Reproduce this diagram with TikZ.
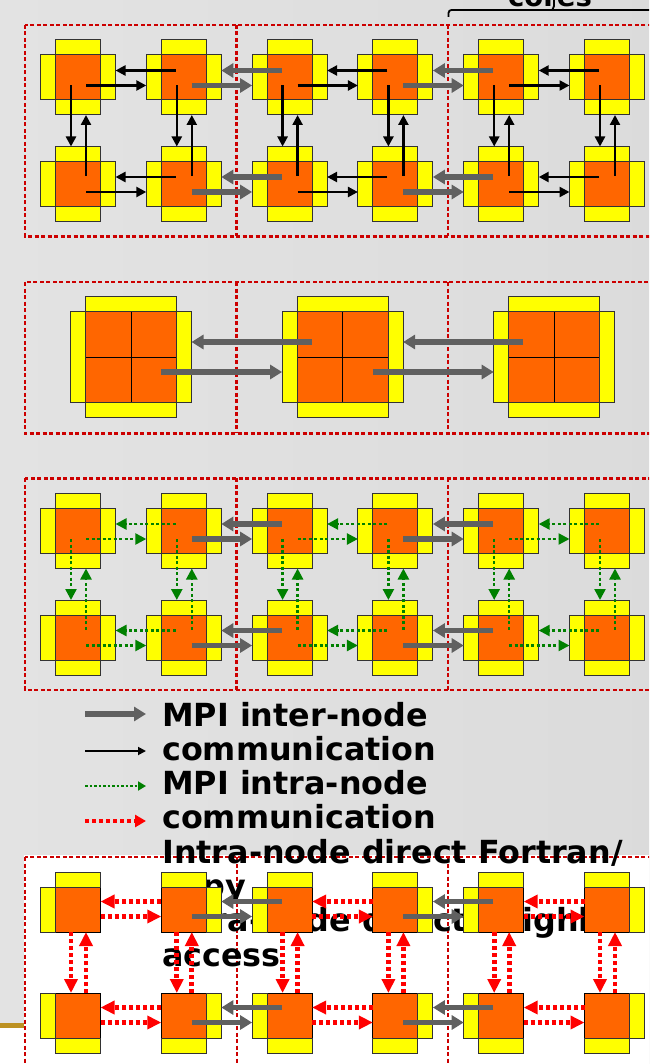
\documentclass[tikz,border=0pt]{standalone}
\usepackage{fontspec}
\setmainfont{DejaVu Sans}
\usetikzlibrary{arrows.meta, positioning, calc}

\definecolor{corange}{HTML}{FF6600}
\definecolor{cyellow}{HTML}{FFFF00}
\definecolor{intergray}{HTML}{606060}
\definecolor{boxred}{HTML}{CC0000}
\definecolor{shmgreen}{HTML}{008000}
\definecolor{dirred}{HTML}{FF0000}
\definecolor{footgold}{HTML}{BC9122}

% yellow bars around a core
\newcommand{\barN}[1]{\filldraw[ybar] (#1.north west) rectangle ($(#1.north east)+(0,-15)$);}
\newcommand{\barS}[1]{\filldraw[ybar] (#1.south west) rectangle ($(#1.south east)+(0,15)$);}
\newcommand{\barW}[1]{\filldraw[ybar] (#1.north west) rectangle ($(#1.south west)+(-15,0)$);}
\newcommand{\barE}[1]{\filldraw[ybar] (#1.north east) rectangle ($(#1.south east)+(15,0)$);}

\begin{document}
\begin{tikzpicture}[
    x=1pt, y=-1pt,
    core/.style={rectangle, draw=black, fill=corange, line width=1pt, minimum size=45pt, inner sep=0pt, outer sep=0pt},
    bigcore/.style={core, minimum size=91pt},
    ybar/.style={draw=black!80, fill=cyellow, line width=1pt},
    nodebox/.style={draw=boxred, line width=2.5pt, dash pattern=on 4pt off 2.5pt},
    inter/.style={draw=intergray, line width=5.5pt, -{Triangle[length=12pt, width=14pt]}},
    wire/.style={draw=black, line width=2.4pt, -{Triangle[length=10pt, width=10pt]}},
    shm/.style={draw=shmgreen, line width=2.4pt, dash pattern=on 3pt off 2.5pt, -{Triangle[length=11pt, width=11pt]}},
    direct/.style={draw=dirred, line width=4.8pt, dash pattern=on 4pt off 3pt, -{Triangle[length=14pt, width=13pt]}},
    legtext/.style={anchor=base west, inner sep=0pt, font=\fontsize{31.8}{34}\selectfont\bfseries}
]

\path[use as bounding box] (0,0) rectangle (649,1064);
\clip (0,0) rectangle (649,1064);

% Slide background
\shade[left color=black!11, right color=black!14] (0,0) rectangle (649,1064);
\fill[white] (24,855) rectangle (649,1064);
\fill[white] (0,1027) rectangle (24,1064);
\fill[footgold] (0,1023) rectangle (24,1027.5);

% Node boxes
\foreach \py/\ph/\lw in {25/211.5/2.5, 282/151.3/2.5, 478.3/211.7/2.5, 857/211.5/2} {
  \draw[nodebox, line width=\lw pt] (25, \py) rectangle ++(634.8, \ph);
  \foreach \k in {1,2}
    \draw[nodebox, line width=\lw pt] ({25+211.6*\k}, \py) -- ++(0, \ph);
}

% Legend text
\foreach \txt [count=\i] in {MPI inter-node, communication, MPI intra-node, communication,
    Intra-node direct Fortran/, copy, Intra-node direct neighbor, access}
  \node[legtext] (leg\i) at (162, {726+34.3*(\i-1)}) {\txt};

% Legend arrows
\coordinate (k1s) at (85,714);  \coordinate (k1e) at (146,714);
\coordinate (k2s) at (85,751);  \coordinate (k2e) at (146,751);
\coordinate (k3s) at (85,786);  \coordinate (k3e) at (146,786);
\coordinate (k4s) at (85,821);  \coordinate (k4e) at (146,821);
\draw[inter, line width=5.5pt] (k1s) -- (k1e);
\draw[wire, line width=1.8pt, -{Triangle[length=8pt, width=8pt]}] (k2s) -- (k2e);
\draw[shm, line width=1.8pt, dash pattern=on 2.5pt off 2pt, -{Triangle[length=8pt, width=9pt]}] (k3s) -- (k3e);
\draw[direct, line width=4.5pt, -{Triangle[length=11pt, width=12pt]}] (k4s) -- (k4e);

% Panels with one core per process
\foreach \pn/\py in {t/77.5, g/531} {
  \foreach \c in {1,...,6} {
    \node[core] (\pn1\c) at ({78+105.8*(\c-1)}, \py) {};
    \node[core] (\pn2\c) at ({78+105.8*(\c-1)}, \py+106.5) {};
    \barN{\pn1\c}\barS{\pn1\c}\barW{\pn1\c}\barE{\pn1\c}
    \barN{\pn2\c}\barS{\pn2\c}\barW{\pn2\c}\barE{\pn2\c}
  }
}

\foreach \pn/\st in {t/wire, g/shm} {
  \tikzset{intra/.style/.expanded={\st}}
  \foreach \r in {1,2} {
    \foreach \c [evaluate=\c as \d using int(\c+1)] in {1,...,5} {
      \ifodd\c \tikzset{link/.style={intra}}\else \tikzset{link/.style={inter}}\fi
      \draw[link] ($(\pn\r\d.center)+(-8,-7)$) -- ($(\pn\r\c.east)+(15,-7)$);
      \draw[link] ($(\pn\r\c.center)+(8,8)$) -- ($(\pn\r\d.west)+(-15,8)$);
    }
  }
  \foreach \c in {1,...,6} {
    \draw[intra] ($(\pn1\c.center)+(-7,8)$) -- ($(\pn2\c.north)+(-7,-15)$);
    \draw[intra] ($(\pn2\c.center)+(8,-8)$) -- ($(\pn1\c.south)+(8,15)$);
  }
}

% One process per node
\foreach \k in {1,2,3} {
  \node[bigcore] (n\k) at ({131+211.6*(\k-1)}, 357) {};
  \draw[line width=1pt] (n\k.north) -- (n\k.south) (n\k.west) -- (n\k.east);
  \barN{n\k}\barS{n\k}\barW{n\k}\barE{n\k}
}
\foreach \k [evaluate=\k as \m using int(\k+1)] in {1,2} {
  \draw[inter] ($(n\m.center)+(-31,-15)$) -- ($(n\k.east)+(15,-15)$);
  \draw[inter] ($(n\k.center)+(30,15)$) -- ($(n\m.west)+(-15,15)$);
}

% Direct access panel
\foreach \c in {1,...,6} {
  \node[core] (d1\c) at ({78+105.8*(\c-1)}, 909.5) {};
  \node[core] (d2\c) at ({78+105.8*(\c-1)}, 1015.5) {};
}
\foreach \c in {1,3,5} {\barN{d1\c}\barW{d1\c}\barS{d2\c}\barW{d2\c}}
\foreach \c in {2,4,6} {\barN{d1\c}\barE{d1\c}\barS{d2\c}\barE{d2\c}}
\foreach \r in {1,2} {
  \foreach \c/\d in {1/2, 3/4, 5/6} {
    \draw[direct] ($(d\r\d.west)+(0,-8)$) -- ($(d\r\c.east)+(0,-8)$);
    \draw[direct] ($(d\r\c.east)+(0,7)$) -- ($(d\r\d.west)+(0,7)$);
  }
  \foreach \c/\d in {2/3, 4/5} {
    \draw[inter] ($(d\r\d.center)+(-8,-8)$) -- ($(d\r\c.east)+(15,-8)$);
    \draw[inter] ($(d\r\c.center)+(8,7)$) -- ($(d\r\d.west)+(-15,7)$);
  }
}
\foreach \c in {1,...,6} {
  \draw[direct] ($(d1\c.south)+(-7,0)$) -- ($(d2\c.north)+(-7,0)$);
  \draw[direct] ($(d2\c.north)+(8,0)$) -- ($(d1\c.south)+(8,0)$);
}

% Cores brace
\node[anchor=base, inner sep=0pt, font=\fontsize{27.5}{30}\selectfont\bfseries] (coreslbl) at (550,6.7) {cores};
\draw[line width=1.8pt, rounded corners=3pt] (448.5,17) |- (662,10);
\draw[line width=1.8pt, rounded corners=2pt] (552,10) -- (554,8) -- (554,0);

\end{tikzpicture}
\end{document}
